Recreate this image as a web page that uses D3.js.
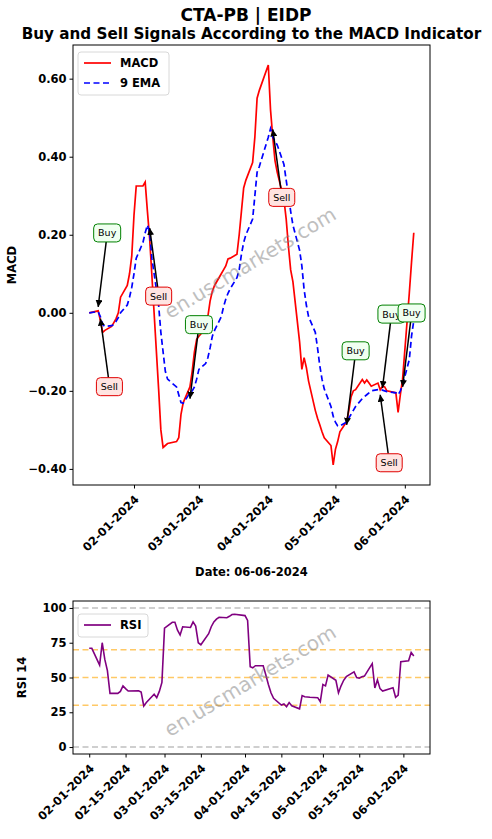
<!DOCTYPE html>
<html><head><meta charset="utf-8">
<script src="https://cdn.jsdelivr.net/npm/d3@7"></script>
<style>body{margin:0;background:#fff}svg text{font-family:"DejaVu Sans",sans-serif}</style>
</head><body><svg id="c" width="492" height="839"></svg>
<script>
// ---------- DATA ----------
const tradingDays = [
  ["2024-01", [12,16,17,18,19,22,23,24,25,26,29,30,31]],
  ["2024-02", [1,2,5,6,7,8,9,12,13,14,15,16,20,21,22,23,26,27,28,29]],
  ["2024-03", [1,4,5,6,7,8,11,12,13,14,15,18,19,20,21,22,25,26,27,28]],
  ["2024-04", [1,2,3,4,5,8,9,10,11,12,15,16,17,18,19,22,23,24,25,26,29,30]],
  ["2024-05", [1,2,3,6,7,8,9,10,13,14,15,16,17,20,21,22,23,24,28,29,30,31]],
  ["2024-06", [3,4,5]]
];
const macdValues = [
  0.0,0.005,-0.02,-0.05,-0.045,-0.035,-0.025,-0.015,0.0,0.04,0.07,0.1,0.145,
  0.25,0.325,0.325,0.335,0.26,0.19,0.095,-0.195,-0.3,-0.345,-0.34,-0.335,-0.33,-0.32,-0.26,-0.23,-0.19,-0.15,-0.1,-0.068,
  -0.06,-0.04,-0.01,0.03,0.055,0.07,0.1,0.11,0.12,0.138,0.14,0.15,0.2,0.26,0.32,0.34,0.385,0.45,0.55,0.57,
  0.635,0.52,0.45,0.39,0.36,0.29,0.24,0.17,0.11,0.08,-0.075,-0.145,-0.115,-0.14,-0.175,-0.25,-0.27,-0.287,-0.305,-0.32,-0.34,-0.39,
  -0.35,-0.33,-0.305,-0.279,-0.25,-0.215,-0.2,-0.197,-0.171,-0.18,-0.172,-0.18,-0.188,-0.18,-0.197,-0.188,-0.19,-0.2,-0.205,-0.255,-0.21,-0.17,
  0.05,0.13,0.205
];
const emaValues = [
  0.0,0.003,-0.01,-0.03,-0.035,-0.033,-0.03,-0.022,-0.012,0.0,0.02,0.04,0.065,
  0.1,0.14,0.18,0.205,0.225,0.205,0.14,0.02,-0.05,-0.1,-0.15,-0.17,-0.19,-0.21,-0.23,-0.232,-0.205,-0.2,-0.19,-0.17,
  -0.145,-0.13,-0.115,-0.09,-0.06,-0.045,-0.01,0.015,0.035,0.05,0.062,0.09,0.11,0.15,0.18,0.2,0.24,0.3,0.36,0.375,
  0.45,0.472,0.45,0.44,0.43,0.38,0.34,0.3,0.26,0.225,0.16,0.12,0.06,0.02,-0.01,-0.05,-0.09,-0.135,-0.17,-0.195,-0.24,-0.265,
  -0.28,-0.29,-0.29,-0.28,-0.27,-0.26,-0.25,-0.24,-0.22,-0.215,-0.21,-0.205,-0.2,-0.197,-0.197,-0.198,-0.2,-0.202,-0.205,-0.21,-0.2,-0.185,
  -0.12,-0.06,-0.02
];
const rsiStart = "2024-02-01";
const rsiValues = [
  71,71,59,75,63,55,38.6,38.6,40,44,42,40.3,40.5,39.5,29.5,32,38,35.5,40,46.5,
  85.5,89.7,89.7,84,80.6,86.5,86,90,87,75,73.5,81.5,86.5,90,92,93.3,93,94,95.3,95.5,
  94.5,91,57.8,57,58.5,58.5,52,45,39,35,30.2,31,29,32,29.7,27.5,37,36.2,36,35.8,35.5,32.6,
  45,44,51.8,48,39,44,48,50.6,54,50,49.5,50.5,51,60,42.5,48.2,42,40.3,42.7,35.8,37.4,61.4,
  62,68,65.5
];
const signals = [
  {date:"2024-01-16", type:"Buy",  value:0.015},
  {date:"2024-01-17", type:"Sell", value:-0.015},
  {date:"2024-02-08", type:"Sell", value:0.217},
  {date:"2024-02-26", type:"Buy",  value:-0.22},
  {date:"2024-04-03", type:"Sell", value:0.47},
  {date:"2024-05-06", type:"Buy",  value:-0.287},
  {date:"2024-05-21", type:"Sell", value:-0.21},
  {date:"2024-05-22", type:"Buy",  value:-0.193},
  {date:"2024-05-31", type:"Buy",  value:-0.19}
];
const macdTickDates = ["2024-02-01","2024-03-01","2024-04-01","2024-05-01","2024-06-01"];
const rsiTickDates = ["2024-02-01","2024-02-15","2024-03-01","2024-03-15","2024-04-01","2024-04-15","2024-05-01","2024-05-15","2024-06-01"];
const macdYTicks = [-0.4,-0.2,0,0.2,0.4,0.6];
const rsiYTicks = [0,25,50,75,100];
const rsiLevels = [30,50,70];
const rsiBounds = [0,100];

// ---------- CHART ----------
const parse = d3.timeParse("%Y-%m-%d");
const fmt = d3.timeFormat("%m-%d-%Y");
const dates = tradingDays.flatMap(([m, ds]) => ds.map(d => parse(m + "-" + String(d).padStart(2,"0"))));
const rsiDates = dates.filter(d => d >= parse(rsiStart));
const svg = d3.select("#c");
const FONT = "DejaVu Sans, sans-serif";
svg.append("rect").attr("width",492).attr("height",839).attr("fill","#fff");

function padDomain(a, b, f) { const p = (b - a) * f; return [a - p, b + p]; }

svg.append("text").attr("x",246).attr("y",21).attr("text-anchor","middle")
  .attr("font-size",17).attr("font-weight","bold").text("CTA-PB | EIDP");

// top panel
const T = {l:73, r:430, t:45, b:485};
const x1 = d3.scaleTime().domain(padDomain(+dates[0], +dates[dates.length-1], 0.05).map(v=>new Date(v))).range([T.l, T.r]);
const allM = macdValues.concat(emaValues);
const y1 = d3.scaleLinear().domain(padDomain(d3.min(allM), d3.max(allM), 0.05)).range([T.b, T.t]);

svg.append("text").attr("x",(T.l+T.r)/2).attr("y",39).attr("text-anchor","middle")
  .attr("font-size",15.2).attr("font-weight","bold").text("Buy and Sell Signals According to the MACD Indicator");

function watermark(cx, cy) {
  svg.append("text").attr("transform",`translate(${cx},${cy}) rotate(-31)`).attr("text-anchor","middle")
    .attr("dominant-baseline","middle").attr("font-size",20).attr("fill","#808080").attr("opacity",0.5)
    .text("en.uscmarkets.com");
}

const g1 = svg.append("g");
const line1 = (vals) => d3.line().x((d,i)=>x1(dates[i])).y(d=>y1(d))(vals);
g1.append("path").attr("d", line1(macdValues)).attr("fill","none").attr("stroke","#ff0000").attr("stroke-width",1.7);
g1.append("path").attr("d", line1(emaValues)).attr("fill","none").attr("stroke","#0000ff").attr("stroke-width",1.7).attr("stroke-dasharray","6,3.5");
watermark(251, 264);

function frame(P){ svg.append("rect").attr("x",P.l).attr("y",P.t).attr("width",P.r-P.l).attr("height",P.b-P.t)
  .attr("fill","none").attr("stroke","#000").attr("stroke-width",1); }
frame(T);

function styleAxis(g){ g.select(".domain").remove(); g.selectAll("line").attr("stroke","#000").attr("stroke-width",1);
  g.selectAll("text").attr("font-family",FONT).attr("font-weight","bold").attr("font-size",11.5).attr("fill","#000"); }

const ay1 = svg.append("g").attr("transform",`translate(${T.l},0)`)
  .call(d3.axisLeft(y1).tickValues(macdYTicks).tickFormat(d3.format(".2f")).tickSize(3.5).tickPadding(3));
styleAxis(ay1);

function xAxis(scale, ticks, P) {
  const g = svg.append("g").attr("transform",`translate(0,${P.b})`)
    .call(d3.axisBottom(scale).tickValues(ticks.map(parse)).tickFormat(fmt).tickSize(3.5));
  styleAxis(g);
  g.selectAll("text").attr("text-anchor","end").attr("dy",null).attr("y",null)
    .attr("transform","translate(-1,9) rotate(-45)").attr("dy","0.75em");
}
xAxis(x1, macdTickDates, T);

svg.append("text").attr("transform",`translate(16,${(T.t+T.b)/2}) rotate(-90)`).attr("text-anchor","middle")
  .attr("font-size",11.5).attr("font-weight","bold").text("MACD");
svg.append("text").attr("x",(T.l+T.r)/2).attr("y",576).attr("text-anchor","middle")
  .attr("font-size",11.5).attr("font-weight","bold").text("Date: 06-06-2024");

// signals
const defs = svg.append("defs");
defs.append("marker").attr("id","ah").attr("viewBox","0 0 10 10").attr("refX",10).attr("refY",5)
  .attr("markerWidth",7).attr("markerHeight",7).attr("markerUnits","userSpaceOnUse").attr("orient","auto")
  .append("path").attr("d","M0,0 L10,5 L0,10 z").attr("fill","#000");
signals.forEach(s => {
  const px = x1(parse(s.date)), py = y1(s.value);
  const buy = s.type === "Buy";
  const tx = px + 9, ty = buy ? py - 74 : py + 68;
  const w = buy ? 27 : 26, h = 18;
  svg.append("line").attr("x1",tx-1).attr("y1", buy ? ty + h/2 : ty - h/2).attr("x2",px).attr("y2",py)
    .attr("stroke","#000").attr("stroke-width",1.5).attr("marker-end","url(#ah)");
  svg.append("rect").attr("x",tx-w/2).attr("y",ty-h/2).attr("width",w).attr("height",h).attr("rx",4)
    .attr("fill", buy ? "#f0fff0" : "#ffe4e1").attr("stroke", buy ? "#008000" : "#e00000").attr("stroke-width",1);
  svg.append("text").attr("x",tx).attr("y",ty).attr("text-anchor","middle").attr("dominant-baseline","central")
    .attr("font-size",9.5).text(s.type);
});

function legend(x, y, w, items) {
  const h = items.length * 20 + 3;
  svg.append("rect").attr("x",x).attr("y",y).attr("width",w).attr("height",h).attr("rx",3)
    .attr("fill","#fff").attr("fill-opacity",0.8).attr("stroke","#d8d8d8");
  items.forEach((it,i) => {
    const cy = y + 11 + i*20;
    svg.append("line").attr("x1",x+6).attr("x2",x+33).attr("y1",cy).attr("y2",cy)
      .attr("stroke",it.color).attr("stroke-width",1.7).attr("stroke-dasharray",it.dash||null);
    svg.append("text").attr("x",x+42).attr("y",cy+4).attr("font-size",11.5).attr("font-weight","bold").text(it.label);
  });
}
legend(78, 52, 91, [{label:"MACD", color:"#ff0000"},{label:"9 EMA", color:"#0000ff", dash:"6,3.5"}]);

// bottom panel
const B = {l:73, r:430, t:601, b:754};
const x2 = d3.scaleTime().domain(padDomain(+rsiDates[0], +rsiDates[rsiDates.length-1], 0.05).map(v=>new Date(v))).range([B.l, B.r]);
const y2 = d3.scaleLinear().domain(padDomain(rsiBounds[0], rsiBounds[1], 0.05)).range([B.b, B.t]);
rsiLevels.forEach(v => svg.append("line").attr("x1",B.l).attr("x2",B.r).attr("y1",y2(v)).attr("y2",y2(v))
  .attr("stroke","#ffa500").attr("stroke-opacity",0.6).attr("stroke-width",1.5).attr("stroke-dasharray","6,3.5"));
rsiBounds.forEach(v => svg.append("line").attr("x1",B.l).attr("x2",B.r).attr("y1",y2(v)).attr("y2",y2(v))
  .attr("stroke","#808080").attr("stroke-opacity",0.5).attr("stroke-width",1.5).attr("stroke-dasharray","6,3.5"));
svg.append("path").attr("d", d3.line().x((d,i)=>x2(rsiDates[i])).y(d=>y2(d))(rsiValues))
  .attr("fill","none").attr("stroke","#800080").attr("stroke-width",1.6);
watermark(251, 682);
frame(B);
const ay2 = svg.append("g").attr("transform",`translate(${B.l},0)`)
  .call(d3.axisLeft(y2).tickValues(rsiYTicks).tickFormat(d3.format("d")).tickSize(3.5).tickPadding(3));
styleAxis(ay2);
xAxis(x2, rsiTickDates, B);
svg.append("text").attr("transform",`translate(26,${(B.t+B.b)/2}) rotate(-90)`).attr("text-anchor","middle")
  .attr("font-size",11.5).attr("font-weight","bold").text("RSI 14");
legend(78, 614, 70, [{label:"RSI", color:"#800080"}]);
</script></body></html>
